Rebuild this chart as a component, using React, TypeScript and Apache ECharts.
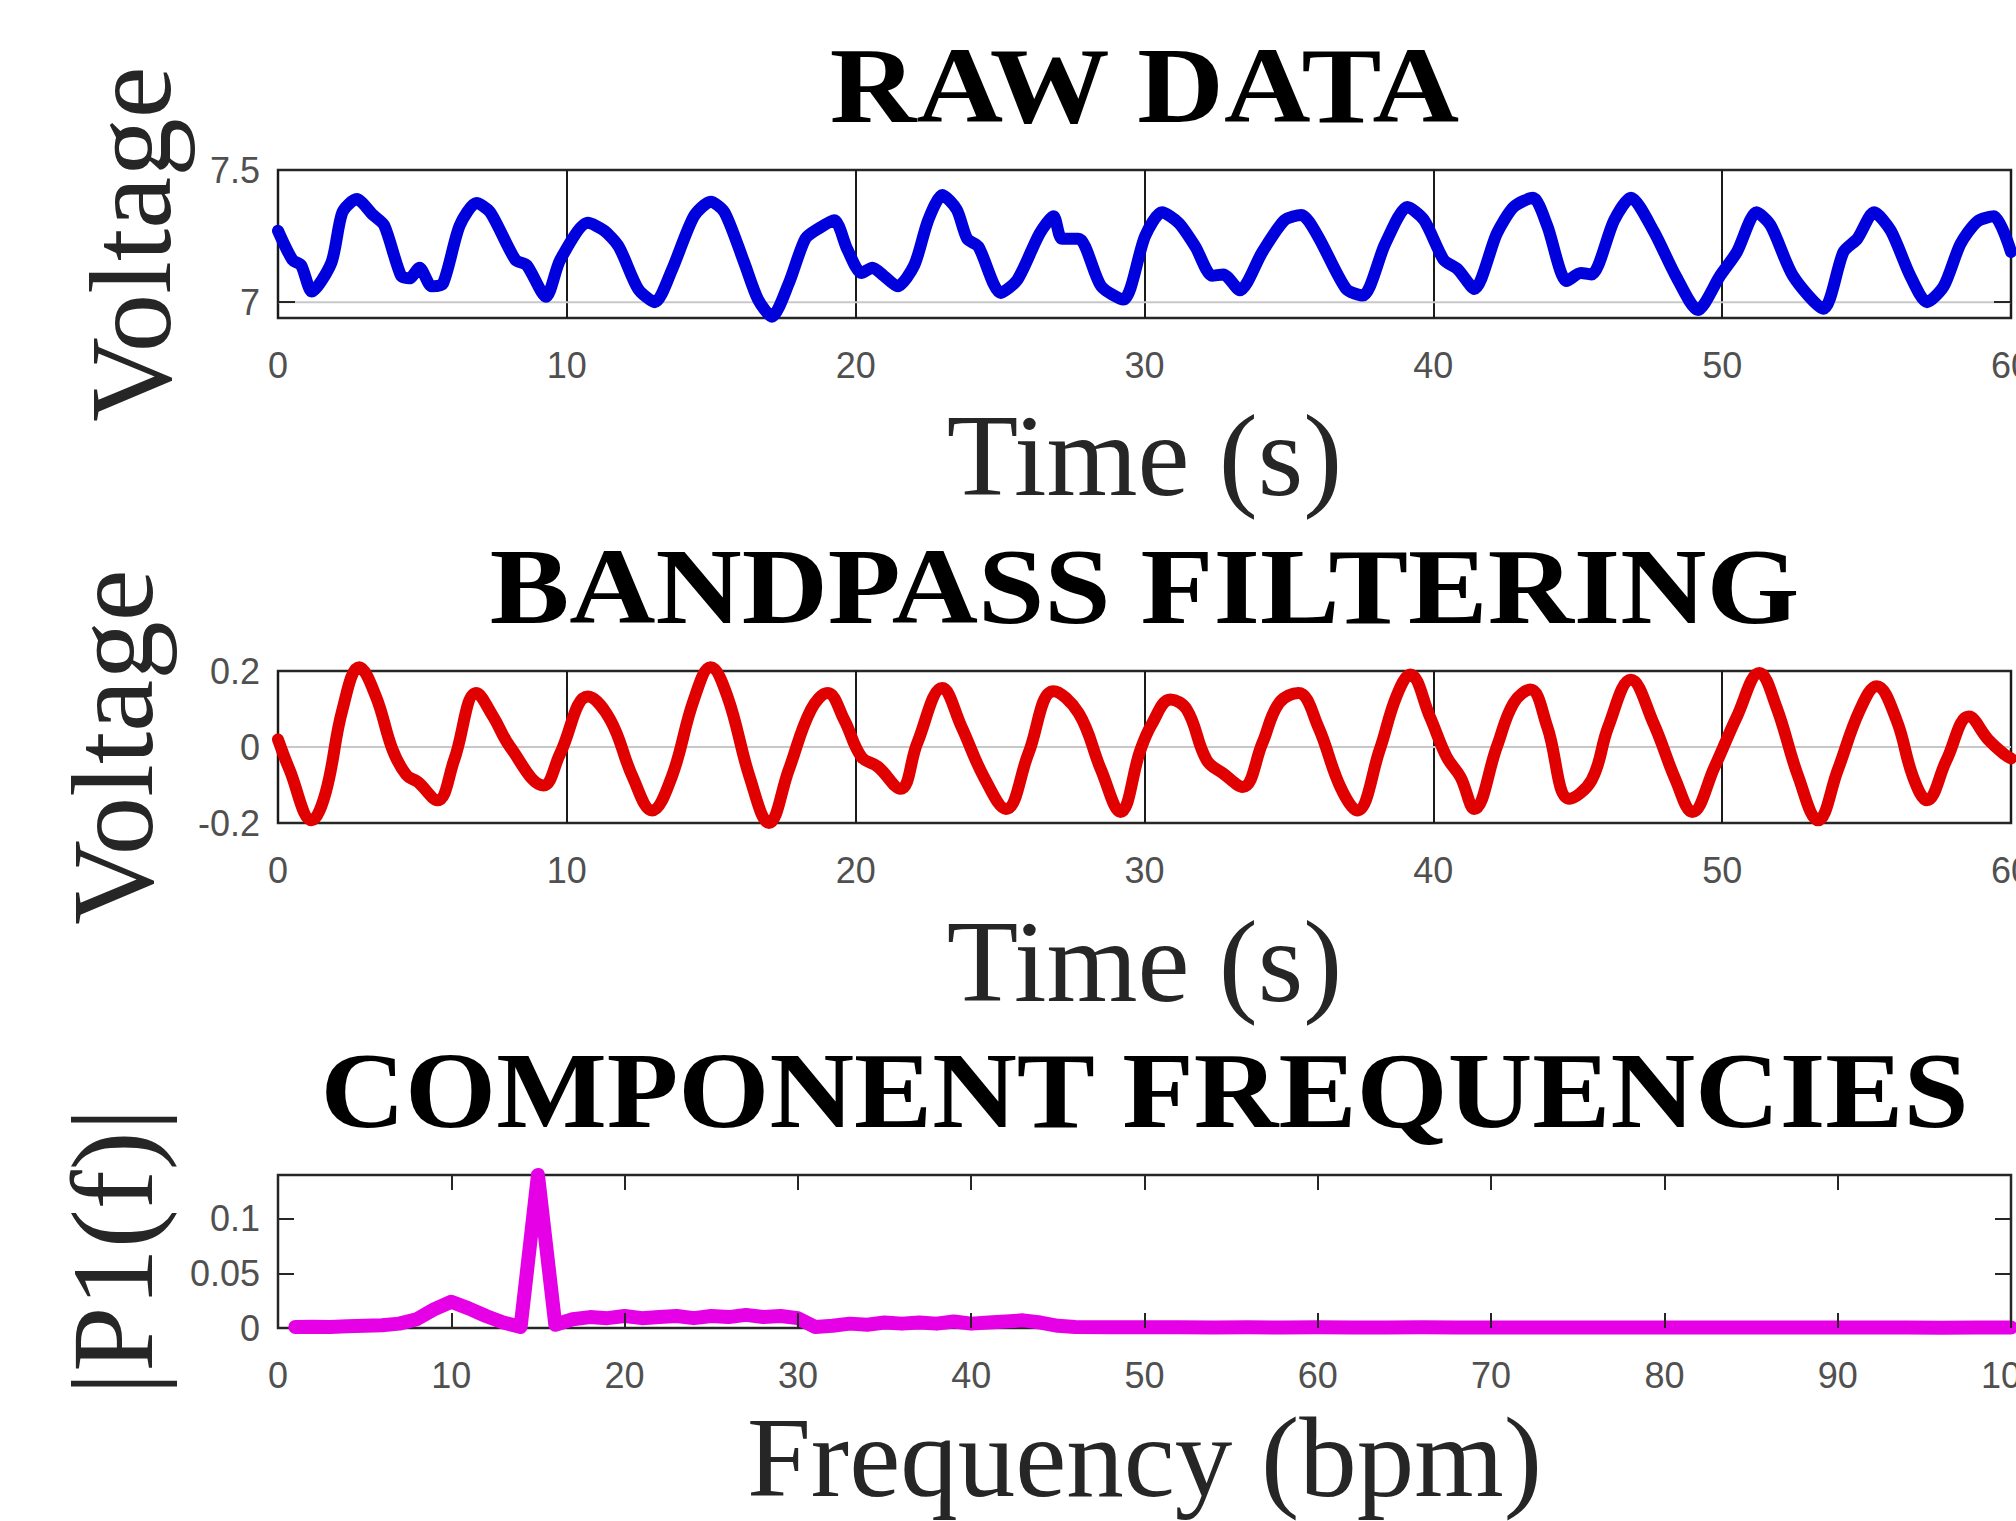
import React, { useEffect, useRef } from 'react';
import * as echarts from 'echarts';

// ---------- data ----------
const RAW_T = [0, 0.5, 0.8, 1.17, 1.85, 2.23, 2.72, 3.29, 3.68, 4.26, 4.55, 4.9, 5.32, 5.71, 6.29, 6.87, 7.35, 8.22, 8.61, 9.28, 9.77, 10.73, 11.3, 11.8, 12.47, 13.05, 13.63, 14.4, 14.98, 15.46, 16.14, 16.62, 17.1, 17.68, 18.26, 18.74, 19.26, 19.71, 20.2, 20.58, 20.97, 21.45, 22.03, 22.51, 23.0, 23.5, 23.86, 24.25, 25.02, 25.6, 26.37, 26.85, 27.14, 27.72, 28.5, 29.27, 30.02, 30.6, 31.18, 31.76, 32.34, 32.73, 33.3, 34.08, 34.85, 35.43, 36.0, 36.98, 37.56, 38.33, 39.1, 39.68, 40.36, 40.84, 41.42, 42.2, 42.78, 43.45, 43.94, 44.62, 45.1, 45.48, 46.26, 46.84, 47.62, 48.39, 49.16, 49.93, 50.51, 51.19, 51.68, 52.45, 53.51, 54.2, 54.68, 55.26, 55.84, 56.51, 57.09, 57.67, 58.25, 58.83, 59.41, 60.0];
const RAW_V = [7.27, 7.16, 7.14, 7.04, 7.15, 7.34, 7.39, 7.33, 7.29, 7.10, 7.09, 7.13, 7.06, 7.07, 7.29, 7.375, 7.34, 7.16, 7.14, 7.02, 7.16, 7.30, 7.27, 7.21, 7.05, 7.00, 7.12, 7.325, 7.38, 7.34, 7.15, 7.01, 6.945, 7.07, 7.24, 7.28, 7.31, 7.20, 7.11, 7.13, 7.10, 7.06, 7.14, 7.31, 7.405, 7.35, 7.24, 7.21, 7.035, 7.085, 7.26, 7.325, 7.24, 7.24, 7.06, 7.01, 7.25, 7.34, 7.30, 7.21, 7.10, 7.105, 7.045, 7.19, 7.31, 7.33, 7.25, 7.05, 7.025, 7.22, 7.36, 7.31, 7.16, 7.125, 7.05, 7.26, 7.36, 7.395, 7.29, 7.08, 7.11, 7.105, 7.31, 7.395, 7.27, 7.10, 6.97, 7.10, 7.19, 7.34, 7.29, 7.10, 6.975, 7.19, 7.24, 7.34, 7.27, 7.10, 7.00, 7.06, 7.22, 7.305, 7.325, 7.19];

const BP_T = [0, 0.4, 1.17, 1.65, 2.23, 2.81, 3.39, 3.97, 4.45, 4.84, 5.52, 6.1, 6.87, 7.45, 8.03, 9.19, 9.77, 10.73, 11.5, 12.28, 12.95, 13.63, 14.4, 14.98, 15.56, 16.33, 17.0, 17.68, 18.45, 19.03, 19.6, 20.2, 20.77, 21.55, 22.13, 23.0, 23.66, 24.44, 25.21, 25.98, 26.85, 27.72, 28.5, 29.17, 29.85, 30.25, 30.9, 31.47, 32.15, 32.73, 33.4, 34.08, 34.66, 35.33, 36.01, 36.78, 37.36, 38.14, 38.72, 39.2, 39.88, 40.46, 40.94, 41.42, 42.2, 42.78, 43.36, 43.94, 44.71, 45.48, 46.06, 46.84, 47.62, 48.39, 48.97, 49.74, 50.51, 51.29, 51.87, 52.64, 53.32, 54.0, 54.77, 55.35, 56.03, 56.61, 57.09, 57.77, 58.54, 59.22, 59.8, 60.0];
const BP_V = [0.02, -0.06, -0.193, -0.12, 0.098, 0.21, 0.133, -0.008, -0.074, -0.092, -0.14, -0.034, 0.142, 0.08, 0.001, -0.101, -0.017, 0.133, 0.072, -0.079, -0.167, -0.079, 0.125, 0.21, 0.133, -0.079, -0.2, -0.061, 0.098, 0.142, 0.072, -0.026, -0.052, -0.11, 0.01, 0.155, 0.054, -0.079, -0.163, -0.017, 0.147, 0.089, -0.061, -0.171, -0.01, 0.06, 0.125, 0.098, -0.034, -0.07, -0.105, 0.01, 0.116, 0.142, 0.054, -0.105, -0.167, -0.008, 0.133, 0.191, 0.08, -0.026, -0.079, -0.163, 0.001, 0.116, 0.151, 0.054, -0.136, -0.087, 0.054, 0.177, 0.063, -0.087, -0.171, -0.052, 0.08, 0.195, 0.107, -0.079, -0.193, -0.061, 0.098, 0.16, 0.072, -0.079, -0.14, -0.034, 0.08, 0.019, -0.021, -0.03];

const PSD_F = [1, 2, 3, 4, 5, 6, 7, 8, 9, 10, 11, 12, 13, 14, 15, 16, 17, 18, 19, 20, 21, 22, 23, 24, 25, 26, 27, 28, 29, 30, 31, 32, 33, 34, 35, 36, 37, 38, 39, 40, 41, 42, 43, 44, 45, 46, 48, 50, 52, 54, 56, 58, 60, 62, 64, 66, 68, 70, 72, 74, 76, 78, 80, 82, 84, 86, 88, 90, 92, 94, 96, 98, 100];
const PSD_V = [0.001, 0.0012, 0.001, 0.0015, 0.002, 0.0025, 0.004, 0.008, 0.017, 0.024, 0.018, 0.011, 0.005, 0.001, 0.14, 0.003, 0.008, 0.01, 0.009, 0.011, 0.009, 0.01, 0.011, 0.009, 0.011, 0.01, 0.012, 0.01, 0.011, 0.009, 0.001, 0.002, 0.004, 0.003, 0.005, 0.004, 0.005, 0.004, 0.006, 0.004, 0.005, 0.006, 0.007, 0.005, 0.002, 0.001, 0.0008, 0.0006, 0.0007, 0.0005, 0.0006, 0.0005, 0.0006, 0.0005, 0.0005, 0.0006, 0.0005, 0.0005, 0.0004, 0.0005, 0.0005, 0.0004, 0.0005, 0.0004, 0.0004, 0.0005, 0.0004, 0.0004, 0.0004, 0.0004, 0.0003, 0.0004, 0.0004];

const TITLES = ['RAW DATA', 'BANDPASS FILTERING', 'COMPONENT FREQUENCIES'];
const RAW_Y_RANGE = [6.94, 7.5];
const RAW_Y_LABELS = [7, 7.5];
const RAW_Y_TICKS = [7];
const RAW_REF = 7;
const BP_Y_RANGE = [-0.2, 0.2];
const BP_REF = 0;
const PSD_Y_RANGE = [0, 0.14];
const PSD_Y_LABELS = [0, 0.05, 0.1];
const PSD_Y_TICKS = [0.05, 0.1];
const TIME_RANGE = [0, 60];
const FREQ_RANGE = [0, 100];

// ---------- styles ----------
const SANS = 'Liberation Sans, Arial, Helvetica, sans-serif';
const SERIF = 'Liberation Serif, Times New Roman, serif';
const LABEL = { fontFamily: SANS, fontSize: 36, color: '#505050' };
const NAME = { fontFamily: SERIF, fontSize: 117, lineHeight: 100, color: '#262626', align: 'center', verticalAlign: 'middle' };
const TICK_LINE = { color: '#262626', width: 2 };
const fmt = (v: number) => String(Math.round(v * 1000) / 1000);

const GRIDS = [
  { left: 278, top: 170, width: 1733, height: 148 },
  { left: 278, top: 671, width: 1733, height: 152 },
  { left: 278, top: 1175, width: 1733, height: 153 },
];
const TITLE_GAP = 84;
const TITLE_SCALE = [1.11, 1.105, 1.085];

function buildOption() {
  const grid = GRIDS.map((g) => ({
    ...g,
    show: true,
    borderColor: '#262626',
    borderWidth: 2.5,
    backgroundColor: '#ffffff',
    containLabel: false,
    outerBoundsMode: 'none',
  }));

  const xAxis: any[] = [
    {
      gridIndex: 0, type: 'value', min: TIME_RANGE[0], max: TIME_RANGE[1], interval: 10, position: 'bottom',
      axisLine: { show: false, onZero: false }, axisTick: { show: false },
      axisLabel: { ...LABEL, margin: 29, showMinLabel: true, showMaxLabel: true, formatter: fmt },
      splitLine: { show: true, lineStyle: { color: '#1a1a1a', width: 2 } },
      name: 'Time (s)', nameLocation: 'middle', nameGap: 137, nameTextStyle: NAME,
    },
    {
      gridIndex: 1, type: 'value', min: TIME_RANGE[0], max: TIME_RANGE[1], interval: 10, position: 'bottom',
      axisLine: { show: false, onZero: false }, axisTick: { show: false },
      axisLabel: { ...LABEL, margin: 29, showMinLabel: true, showMaxLabel: true, formatter: fmt },
      splitLine: { show: true, lineStyle: { color: '#1a1a1a', width: 2 } },
      name: 'Time (s)', nameLocation: 'middle', nameGap: 138, nameTextStyle: NAME,
    },
    {
      gridIndex: 2, type: 'value', min: FREQ_RANGE[0], max: FREQ_RANGE[1], interval: 10, position: 'bottom', z: 5,
      axisLine: { show: false, onZero: false },
      axisTick: { show: true, inside: true, length: 15, lineStyle: TICK_LINE },
      axisLabel: { ...LABEL, margin: 29, showMinLabel: true, showMaxLabel: true, formatter: fmt },
      splitLine: { show: false },
      name: 'Frequency (bpm)', nameLocation: 'middle', nameGap: 129,
      nameTextStyle: { ...NAME, fontSize: 115 },
    },
    {
      gridIndex: 2, type: 'value', min: FREQ_RANGE[0], max: FREQ_RANGE[1], interval: 10, position: 'top', z: 5,
      axisLine: { show: false, onZero: false },
      axisTick: { show: true, inside: true, length: 15, lineStyle: TICK_LINE },
      axisLabel: { show: false }, splitLine: { show: false },
    },
  ];

  const yAxis: any[] = [
    {
      gridIndex: 0, type: 'value', min: RAW_Y_RANGE[0], max: RAW_Y_RANGE[1], position: 'left', z: 5,
      axisLine: { show: false, onZero: false },
      axisTick: { show: true, inside: true, length: 17, customValues: RAW_Y_TICKS, lineStyle: TICK_LINE },
      axisLabel: { ...LABEL, margin: 18, customValues: RAW_Y_LABELS, formatter: fmt },
      splitLine: { show: false },
      name: 'Voltage', nameLocation: 'middle', nameRotate: 90, nameGap: 148, nameTextStyle: NAME,
    },
    {
      gridIndex: 0, type: 'value', min: RAW_Y_RANGE[0], max: RAW_Y_RANGE[1], position: 'right', z: 5,
      axisLine: { show: false, onZero: false },
      axisTick: { show: true, inside: true, length: 17, customValues: RAW_Y_TICKS, lineStyle: TICK_LINE },
      axisLabel: { show: false }, splitLine: { show: false },
    },
    {
      gridIndex: 1, type: 'value', min: BP_Y_RANGE[0], max: BP_Y_RANGE[1], interval: 0.2, position: 'left',
      axisLine: { show: false, onZero: false }, axisTick: { show: false },
      axisLabel: { ...LABEL, margin: 18, showMinLabel: true, showMaxLabel: true, formatter: fmt },
      splitLine: { show: false },
      name: 'Voltage', nameLocation: 'middle', nameRotate: 90, nameGap: 166, nameTextStyle: NAME,
    },
    {
      gridIndex: 2, type: 'value', min: PSD_Y_RANGE[0], max: PSD_Y_RANGE[1], position: 'left', z: 5,
      axisLine: { show: false, onZero: false },
      axisTick: { show: true, inside: true, length: 16, customValues: PSD_Y_TICKS, lineStyle: TICK_LINE },
      axisLabel: { ...LABEL, margin: 18, customValues: PSD_Y_LABELS, formatter: fmt },
      splitLine: { show: false },
      name: '|P1(f)|', nameLocation: 'middle', nameRotate: 90, nameGap: 166, nameTextStyle: NAME,
    },
    {
      gridIndex: 2, type: 'value', min: PSD_Y_RANGE[0], max: PSD_Y_RANGE[1], position: 'right', z: 5,
      axisLine: { show: false, onZero: false },
      axisTick: { show: true, inside: true, length: 16, customValues: PSD_Y_TICKS, lineStyle: TICK_LINE },
      axisLabel: { show: false }, splitLine: { show: false },
    },
  ];

  const refLine = (xi: number, yi: number, y: number) => ({
    type: 'line', xAxisIndex: xi, yAxisIndex: yi, z: 1, silent: true,
    symbol: 'none', showSymbol: false,
    data: [[TIME_RANGE[0], y], [TIME_RANGE[1], y]],
    lineStyle: { color: '#c8c8c8', width: 2 },
  });

  const series: any[] = [
    refLine(0, 0, RAW_REF),
    {
      type: 'line', xAxisIndex: 0, yAxisIndex: 0, z: 2, clip: false,
      symbol: 'none', showSymbol: false, smooth: 0.25,
      data: RAW_T.map((t, i) => [t, RAW_V[i]]),
      lineStyle: { color: '#0000dc', width: 12, join: 'round', cap: 'round' },
    },
    refLine(1, 2, BP_REF),
    {
      type: 'line', xAxisIndex: 1, yAxisIndex: 2, z: 2, clip: false,
      symbol: 'none', showSymbol: false, smooth: 0.4,
      data: BP_T.map((t, i) => [t, BP_V[i]]),
      lineStyle: { color: '#e00000', width: 12, join: 'round', cap: 'round' },
    },
    {
      type: 'line', xAxisIndex: 2, yAxisIndex: 3, z: 2, clip: false,
      symbol: 'none', showSymbol: false,
      data: PSD_F.map((f, i) => [f, PSD_V[i]]),
      lineStyle: { color: '#e600e6', width: 14, join: 'round', cap: 'round' },
    },
  ];

  const graphic = TITLES.map((t, i) => ({
    type: 'text',
    x: GRIDS[i].left + GRIDS[i].width / 2,
    y: GRIDS[i].top - TITLE_GAP,
    scaleX: TITLE_SCALE[i],
    z: 10,
    style: {
      text: t,
      fontFamily: SERIF,
      fontSize: 108,
      fontWeight: 'bold',
      fill: '#000000',
      textFill: '#000000',
      align: 'center',
      textAlign: 'center',
      verticalAlign: 'middle',
      textVerticalAlign: 'middle',
    },
  }));

  return { animation: false, backgroundColor: '#ffffff', grid, xAxis, yAxis, series, graphic };
}

export default function App() {
  const ref = useRef<HTMLDivElement>(null);
  useEffect(() => {
    document.body.style.margin = '0';
    document.body.style.overflow = 'hidden';
    const chart = echarts.init(ref.current as HTMLDivElement, undefined, { renderer: 'svg', width: 2016, height: 1521 });
    chart.setOption(buildOption() as any);
    return () => chart.dispose();
  }, []);
  return <div ref={ref} style={{ width: 2016, height: 1521, background: '#ffffff' }} />;
}
